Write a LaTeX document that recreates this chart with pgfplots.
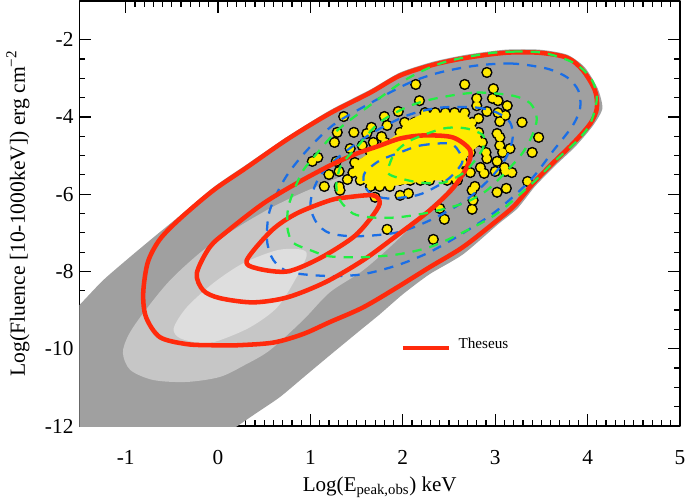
\documentclass[border=0pt]{standalone}
\usepackage{fontspec}
\setmainfont{Liberation Serif}
\usepackage{pgfplots}
\usepackage{pgfplotstable}
\pgfplotsset{compat=1.18}

\definecolor{gdark}{HTML}{A0A0A0}
\definecolor{gmid}{HTML}{C6C6C6}
\definecolor{glight}{HTML}{DEDEDE}
\definecolor{thred}{HTML}{FF2A0C}
\definecolor{cblue}{HTML}{1A6EE6}
\definecolor{cgreen}{HTML}{22EE44}
\definecolor{grbyellow}{HTML}{FFEA00}

% observed GRBs, scattered ones first, then the dense core
\pgfplotstableread{
x y
2.91 -2.85
2.14 -3.16
2.67 -3.16
2.98 -3.27
2.18 -3.58
2.80 -3.52
2.97 -3.52
3.03 -3.58
3.13 -3.71
2.80 -3.71
2.91 -3.86
3.03 -3.89
3.11 -3.96
3.05 -4.12
3.29 -4.14
2.82 -4.04
1.36 -3.99
1.80 -3.99
1.95 -3.86
1.83 -4.22
1.47 -4.40
1.29 -4.40
1.26 -4.66
1.66 -4.27
1.61 -4.43
1.77 -4.51
1.68 -4.66
1.56 -4.74
1.43 -4.82
1.08 -5.05
1.02 -5.15
1.28 -5.15
1.20 -5.49
1.31 -5.41
1.40 -5.62
1.15 -5.80
1.31 -5.80
1.32 -5.90
3.02 -4.43
3.05 -4.53
3.05 -4.74
3.08 -4.92
3.16 -4.82
3.47 -4.53
3.40 -4.92
2.90 -4.92
2.91 -5.08
3.02 -5.15
2.84 -5.31
2.88 -5.46
3.00 -5.41
3.10 -5.31
3.11 -5.41
3.18 -5.44
2.73 -5.44
3.35 -5.67
2.78 -5.80
2.75 -5.90
3.02 -5.95
3.12 -5.85
2.76 -6.16
2.75 -6.39
2.40 -6.37
2.45 -6.65
1.83 -6.91
2.33 -7.17
1.70 -6.08
2.06 -5.98
1.97 -6.03
2.59 -5.64
2.48 -5.57
2.24 -3.89
2.35 -3.89
2.46 -3.89
2.56 -3.89
2.67 -3.89
2.02 -4.14
2.13 -4.14
2.24 -4.14
2.35 -4.14
2.46 -4.14
2.56 -4.14
2.67 -4.14
2.75 -4.14
1.97 -4.40
2.08 -4.40
2.19 -4.40
2.29 -4.40
2.40 -4.40
2.51 -4.40
2.62 -4.40
2.73 -4.40
2.82 -4.40
1.81 -4.66
1.92 -4.66
2.02 -4.66
2.13 -4.66
2.24 -4.66
2.35 -4.66
2.46 -4.66
2.56 -4.66
2.67 -4.66
2.78 -4.66
2.86 -4.66
1.65 -4.92
1.75 -4.92
1.86 -4.92
1.97 -4.92
2.08 -4.92
2.19 -4.92
2.29 -4.92
2.40 -4.92
2.51 -4.92
2.62 -4.92
2.73 -4.92
1.48 -5.18
1.59 -5.18
1.70 -5.18
1.81 -5.18
1.92 -5.18
2.02 -5.18
2.13 -5.18
2.24 -5.18
2.35 -5.18
2.46 -5.18
2.56 -5.18
2.65 -5.18
1.46 -5.44
1.54 -5.44
1.65 -5.44
1.75 -5.44
1.86 -5.44
1.97 -5.44
2.08 -5.44
2.19 -5.44
2.29 -5.44
2.40 -5.44
2.51 -5.44
2.62 -5.44
1.54 -5.64
1.65 -5.64
1.75 -5.64
1.86 -5.64
1.97 -5.64
2.08 -5.64
2.19 -5.64
2.29 -5.64
2.48 -5.64
2.58 -5.64
1.65 -5.80
1.75 -5.80
1.86 -5.80
}\grbs

\pgfplotsset{
    dashblue/.style={cblue,line width=1.7pt,dash pattern=on 7pt off 6pt,smooth cycle,tension=0.5},
    dashgreen/.style={cgreen,line width=1.7pt,dash pattern=on 7pt off 6pt,smooth cycle,tension=0.5},
    solidred/.style={thred,line width=3.4pt,smooth cycle,tension=0.5},
}

\begin{document}
\begin{tikzpicture}[x=1pt,y=1pt]
\useasboundingbox (0,0) rectangle (513.75pt,375.75pt);
\begin{axis}[
    at={(59.6pt,56.25pt)},
    anchor=south west,
    scale only axis,
    width=450.4pt,
    height=318.75pt,
    clip mode=individual,
    xmin=-1.5, xmax=5,
    ymin=-12, ymax=-1,
    xtick={-1,0,1,2,3,4,5},
    xticklabels={-1,0,1,2,3,4,5},
    ytick={-2,-4,-6,-8,-10,-12},
    yticklabels={-2,-4,-6,-8,-10,-12},
    minor x tick num=9,
    minor y tick num=3,
    tick align=inside,
    major tick length=9pt,
    minor tick length=4.5pt,
    tick style={black,line width=0.9pt},
    axis line style={line width=1.2pt},
    every tick label/.append style={font=\fontsize{16}{16}\selectfont},
    xticklabel style={yshift=-15pt},
    yticklabel style={xshift=-1pt},
    xlabel={Log(E\textsubscript{peak,obs}) keV},
    ylabel={Log(Fluence [10-1000keV]) erg cm\textsuperscript{−2}},
    xlabel style={font=\fontsize{15.8}{16}\selectfont,at={(axis description cs:0.5,0)},anchor=base,yshift=-49pt},
    ylabel style={font=\fontsize{16.2}{17}\selectfont,at={(axis description cs:0,0.5)},anchor=base,yshift=41pt},
    line join=round,
]
% grey regions
\addplot[draw=none,fill=gdark,smooth cycle,tension=0.4] coordinates {
    (-2.2,-13) (-1.75,-9.5) (-1.5,-8.87) (-1.245,-8.23) (-0.97,-7.66) (-0.70,-7.12) (-0.41,-6.55)
    (-0.05,-5.82) (0.31,-5.23) (0.75,-4.51) (1.21,-3.83) (1.65,-3.29) (1.97,-2.85) (2.33,-2.57)
    (2.69,-2.39) (3.11,-2.26) (3.48,-2.26) (3.78,-2.39) (3.97,-2.72) (4.11,-3.27) (4.16,-3.78)
    (4.06,-4.22) (3.87,-4.76) (3.65,-5.26) (3.43,-5.80) (3.24,-6.37) (3.03,-6.78) (2.65,-7.56)
    (2.29,-8.07) (2.00,-8.59) (1.75,-9.11) (1.54,-9.52) (1.21,-10.17) (0.94,-10.71) (0.67,-11.25)
    (0.43,-11.64) (0.21,-12) (-0.03,-12.41) (-0.3,-12.9)
};
\addplot[draw=none,fill=gmid,smooth cycle,tension=0.5] coordinates {
    (-1.03,-10.11) (-0.95,-10.55) (-0.70,-10.81) (-0.34,-10.86) (0.02,-10.73) (0.29,-10.42)
    (0.56,-10.04) (0.92,-9.26) (1.21,-8.54) (1.57,-7.97) (1.94,-7.19) (2.29,-6.34) (2.48,-5.90)
    (2.67,-5.13) (2.67,-4.48) (2.29,-4.35) (1.75,-5.00) (1.43,-5.44) (1.10,-5.77) (0.85,-6.03)
    (0.56,-6.37) (0.21,-6.86) (-0.16,-7.45) (-0.52,-8.23) (-0.81,-9.08) (-0.97,-9.65)
};
\addplot[draw=none,fill=glight,smooth cycle,tension=0.5] coordinates {
    (-0.48,-9.47) (-0.41,-9.73) (-0.16,-9.86) (0.02,-9.78) (0.35,-9.44) (0.64,-8.93) (0.85,-8.15)
    (0.96,-7.58) (0.89,-7.43) (0.64,-7.45) (0.27,-7.79) (-0.05,-8.30) (-0.34,-8.93)
};
% points: black discs below, yellow above, so that the core merges
\addplot[only marks,mark=*,mark size=4pt,mark options={draw=black,fill=black}] table[x=x,y=y] {\grbs};
% solid inside of the dense core
\addplot[draw=none,fill=grbyellow] coordinates {
    (2.24,-3.89) (2.67,-3.89) (2.75,-4.14) (2.82,-4.40) (2.86,-4.66) (2.73,-4.92) (2.65,-5.18)
    (2.62,-5.44) (2.58,-5.64) (2.29,-5.64) (1.86,-5.80) (1.65,-5.80) (1.54,-5.64) (1.46,-5.44)
    (1.48,-5.18) (1.65,-4.92) (1.81,-4.66) (1.97,-4.40) (2.02,-4.14)
} -- cycle;
\addplot[only marks,mark=*,mark size=2.8pt,color=grbyellow,mark options={draw=grbyellow,fill=grbyellow}] table[x=x,y=y] {\grbs};
% blue contours
\addplot[dashblue] coordinates {
    (3.56,-2.75) (3.19,-2.62) (2.80,-2.67) (2.40,-2.85) (2.05,-3.14) (1.56,-3.76) (1.24,-4.22)
    (0.96,-4.87) (0.73,-5.57) (0.56,-6.42) (0.53,-7.19) (0.60,-7.71) (0.78,-8.02) (1.21,-8.12)
    (1.57,-8.07) (1.94,-7.84) (2.29,-7.50) (2.65,-7.01) (3.02,-6.42) (3.38,-5.64) (3.63,-4.87)
    (3.84,-4.22) (3.92,-3.76) (3.90,-3.32) (3.78,-2.98)
};
\addplot[dashblue] coordinates {
    (2.40,-3.76) (2.80,-3.76) (3.02,-3.89) (3.16,-4.14) (3.19,-4.53) (3.13,-5.00) (3.02,-5.39)
    (2.87,-5.77) (2.65,-6.21) (2.29,-6.68) (1.94,-6.99) (1.50,-7.09) (1.21,-7.01) (1.07,-6.75)
    (1.00,-6.34) (1.03,-5.90) (1.13,-5.44) (1.35,-4.95) (1.68,-4.40) (2.05,-3.96)
};
\addplot[dashblue] coordinates {
    (1.97,-4.92) (2.19,-4.74) (2.51,-4.69) (2.62,-4.95) (2.64,-5.20) (2.51,-5.57) (2.35,-5.82)
    (2.15,-6.03) (1.83,-6.11) (1.65,-5.98) (1.58,-5.72) (1.59,-5.44) (1.75,-5.13)
};
% red contours
\addplot[solidred] coordinates {
    (3.48,-2.34) (3.11,-2.34) (2.69,-2.47) (2.33,-2.65) (1.97,-2.93) (1.65,-3.37) (1.21,-3.91)
    (0.75,-4.58) (0.31,-5.31) (-0.05,-5.90) (-0.41,-6.63) (-0.63,-7.17) (-0.76,-7.76) (-0.81,-8.56)
    (-0.78,-9.18) (-0.63,-9.70) (-0.34,-9.88) (-0.06,-9.91) (0.21,-9.91) (0.60,-9.84) (0.92,-9.62)
    (1.21,-9.31) (1.57,-8.93) (1.94,-8.41) (2.29,-7.89) (2.65,-7.37) (3.02,-6.68) (3.21,-6.29)
    (3.41,-5.72) (3.63,-5.18) (3.84,-4.69) (4.03,-4.17) (4.10,-3.78) (4.08,-3.32) (3.95,-2.80)
    (3.78,-2.47)
};
\addplot[solidred] coordinates {
    (-0.23,-8.05) (-0.16,-8.49) (0.02,-8.69) (0.38,-8.80) (0.75,-8.67) (1.16,-8.28) (1.57,-7.71)
    (1.94,-7.06) (2.29,-6.42) (2.54,-5.85) (2.69,-5.31) (2.73,-4.87) (2.54,-4.53) (2.22,-4.48)
    (1.97,-4.56) (1.73,-4.76) (1.50,-4.95) (1.21,-5.26) (0.85,-5.72) (0.49,-6.24) (0.11,-6.94)
    (-0.09,-7.37)
};
\addplot[solidred] coordinates {
    (0.31,-7.71) (0.42,-7.92) (0.75,-8.00) (1.10,-7.66) (1.46,-7.12) (1.65,-6.63) (1.75,-6.24)
    (1.68,-6.03) (1.40,-6.08) (1.21,-6.16) (0.85,-6.50) (0.58,-6.94)
};
% green contours, drawn last
\addplot[dashgreen] coordinates {
    (3.52,-2.34) (3.21,-2.31) (2.91,-2.36) (2.44,-2.59) (2.05,-3.01) (1.61,-3.76) (1.29,-4.35)
    (1.05,-5.00) (0.92,-5.39) (0.83,-5.85) (0.76,-6.34) (0.75,-6.86) (0.81,-7.25) (1.00,-7.45)
    (1.21,-7.61) (1.57,-7.63) (1.94,-7.56) (2.29,-7.37) (2.65,-6.99) (3.02,-6.50) (3.40,-5.72)
    (3.63,-5.18) (3.89,-4.61) (4.03,-4.17) (4.10,-3.50) (4.03,-2.98) (3.84,-2.59)
};
\addplot[dashgreen] coordinates {
    (2.40,-3.50) (2.80,-3.37) (3.19,-3.45) (3.38,-3.65) (3.45,-4.04) (3.40,-4.48) (3.30,-4.92)
    (3.16,-5.31) (2.91,-5.90) (2.65,-6.24) (2.29,-6.47) (1.94,-6.60) (1.65,-6.60) (1.46,-6.50)
    (1.32,-6.16) (1.28,-5.77) (1.33,-5.26) (1.50,-4.79) (1.75,-4.14) (2.08,-3.71)
};
\addplot[dashgreen] coordinates {
    (2.08,-4.61) (2.44,-4.30) (2.69,-4.30) (2.87,-4.48) (2.87,-4.79) (2.78,-5.13) (2.65,-5.46)
    (2.44,-5.70) (2.19,-5.70) (1.97,-5.59) (1.84,-5.46) (1.86,-5.20) (1.92,-4.92)
};
% key
\addplot[thred,line width=3.4pt] coordinates {(2,-9.98) (2.5,-9.98)};
\node[anchor=west,font=\fontsize{11.4}{12}\selectfont,inner sep=0pt] at (axis cs:2.6,-9.87) {Theseus};
\end{axis}
\end{tikzpicture}
\end{document}
